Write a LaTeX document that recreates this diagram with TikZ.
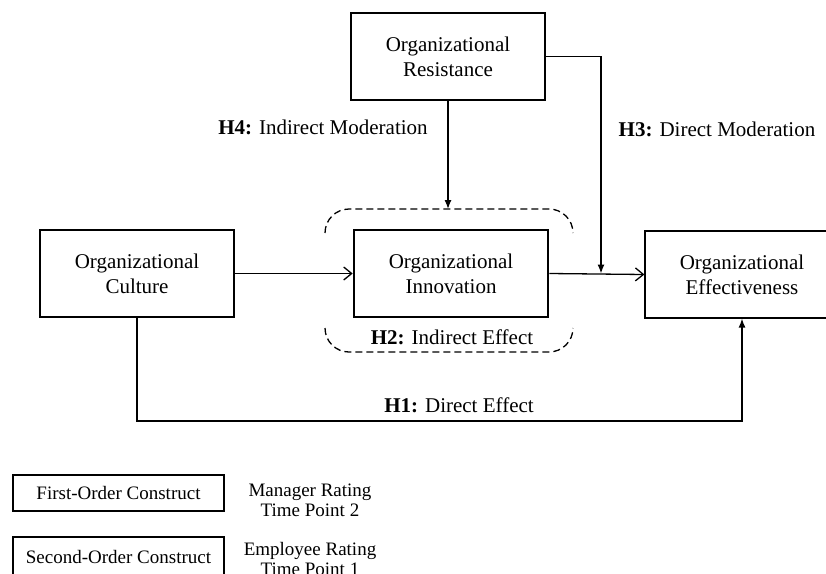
\documentclass[tikz,border=0pt]{standalone}
\usepackage{fontspec}
\setmainfont{Liberation Serif}
\usetikzlibrary{arrows.meta}
\tikzset{
  thickbox/.style={draw, line width=2.6pt, minimum width=194pt, minimum height=87pt, inner sep=0pt, align=center, font=\fontsize{21}{25}\selectfont},
  thinbox/.style={draw, line width=1.2pt, minimum width=194pt, minimum height=87pt, inner sep=0pt, align=center, font=\fontsize{21}{25}\selectfont},
  lbl/.style={inner sep=0pt, align=center, font=\fontsize{21}{25}\selectfont},
  leg/.style={inner sep=0pt, align=center, font=\fontsize{19}{20}\selectfont},
  conn/.style={line width=1.3pt},
  fillarr/.style={conn, -{Latex[length=9pt,width=7pt]}},
  openarr/.style={conn, -{Straight Barb[length=8pt,width=13pt,line width=1.3pt]}},
  dashline/.style={line width=1.3pt, dash pattern=on 7pt off 4pt, rounded corners=24pt}
}
\begin{document}
\begin{tikzpicture}[x=1pt,y=-1pt]
\useasboundingbox (0,0) rectangle (826,573);
% main constructs
\node[thickbox] (res) at (448,56.5) {Organizational\\Resistance};
\node[thickbox] (cul) at (137,273.5) {Organizational\\Culture};
\node[thickbox] (inn) at (451,273.5) {Organizational\\Innovation};
\node[thinbox]  (eff) at (742,274.5) {Organizational\\Effectiveness};
% coordinates
\coordinate (dtop) at (448,209);
\coordinate (mod) at (601,273.5);
\coordinate (h1corner) at (137,421);
% dashed brackets
\draw[dashline] (325,233) -- (325,209) -- (573,209) -- (573,233);
\draw[dashline] (325,328) -- (325,352) -- (573,352) -- (573,328);
% connectors
\draw[openarr] (cul.east) -- (inn.west);
\draw[openarr] (inn.east) -- (eff.west);
\draw[fillarr] (res.south) -- (dtop);
\draw[fillarr] (res.east) -| (mod);
\draw[fillarr] (cul.south) -- (h1corner) -| (eff.south);
% labels
\node[lbl] (h4) at (323,127) {\textbf{H4:} Indirect Moderation};
\node[lbl] (h3) at (717,129) {\textbf{H3:} Direct Moderation};
\node[lbl] (h2) at (452,337) {\textbf{H2:} Indirect Effect};
\node[lbl] (h1) at (459,405) {\textbf{H1:} Direct Effect};
% legend
\node[draw, line width=1.2pt, minimum width=211pt, minimum height=36pt, inner sep=0pt, font=\fontsize{19}{20}\selectfont] (fo) at (118.5,493) {First-Order Construct};
\node[draw, line width=2.6pt, minimum width=211pt, minimum height=40pt, inner sep=0pt, font=\fontsize{19}{20}\selectfont] (so) at (118.5,557) {Second-Order Construct};
\node[leg] (mr) at (310,500) {Manager Rating\\Time Point 2};
\node[leg] (er) at (310,559) {Employee Rating\\Time Point 1};
\end{tikzpicture}
\end{document}
